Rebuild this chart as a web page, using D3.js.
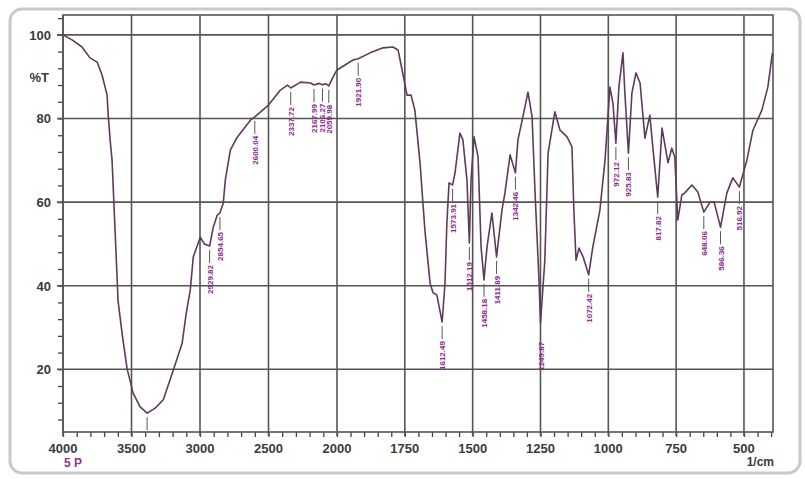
<!DOCTYPE html>
<html>
<head>
<meta charset="utf-8">
<script src="https://cdn.jsdelivr.net/npm/d3@7"></script>
<style>
  body { margin: 0; background: #fff; }
  .tickLabel { font-family: "Liberation Sans", Arial, sans-serif; font-size: 13px; font-weight: bold; fill: #3a3a3a; }
  .peakText { font-family: "Liberation Sans", Arial, sans-serif; font-size: 8px; font-weight: bold; fill: #8a2c8a; }
</style>
</head>
<body>
<div id="ir_plot"></div>
<script>

// wavenumber (1/cm) and transmittance (%T)
const wavenumbers = [
  4000, 3934, 3861, 3803, 3751, 3715, 3678, 3671, 3656, 3642, 3620, 3598, 3568, 3532, 3488, 3437, 3386, 3327, 3268, 3195,
  3130, 3100, 3071, 3049, 2998, 2969, 2929.82, 2903, 2874, 2854.65, 2830, 2815, 2778, 2727, 2632, 2600.04, 2500, 2413, 2361, 2337.72,
  2266, 2193, 2167.99, 2130, 2106.27, 2080, 2059.98, 2047, 2010, 2000, 1941, 1921.90, 1878, 1830, 1794, 1775, 1760, 1742, 1727, 1713,
  1694, 1676, 1657, 1646, 1632, 1612.49, 1602, 1595, 1587, 1573.91, 1565, 1547, 1536, 1521, 1512.19, 1506, 1495, 1480, 1469, 1458.18,
  1447, 1429, 1411.89, 1392, 1381, 1362, 1342.46, 1333, 1315, 1296, 1281, 1270, 1256, 1249.87, 1234, 1222, 1197, 1178, 1152, 1134,
  1127, 1119, 1108, 1093, 1072.42, 1057, 1031, 1012, 994, 983, 972.12, 961, 946, 939, 925.83, 913, 898, 883, 865, 847,
  836, 817.82, 802, 780, 766, 755, 744, 729, 718, 692, 670, 648.06, 625, 610, 586.36, 563, 541, 516.92, 489, 467,
  434, 412, 395
];
const transmittance = [
  100.0, 98.8, 97.1, 94.5, 93.5, 90.4, 85.6, 81.3, 74.9, 70.1, 53.3, 36.3, 28.4, 20.1, 14.3, 11.0, 9.5, 10.7, 12.7, 19.8,
  26.3, 33.5, 39.0, 46.9, 51.6, 50.0, 49.5, 54.0, 56.9, 57.4, 59.8, 65.3, 72.5, 75.6, 79.6, 80.4, 83.2, 86.8, 88.0, 87.3,
  88.7, 88.5, 88.0, 88.4, 88.1, 88.3, 87.8, 88.7, 91.1, 91.6, 94.0, 94.3, 95.7, 96.9, 97.1, 96.4, 91.6, 85.6, 85.6, 82.0,
  69.4, 53.3, 40.6, 38.3, 37.8, 31.3, 40.6, 55.0, 64.6, 64.1, 67.0, 76.5, 74.9, 65.3, 50.2, 65.3, 75.6, 70.8, 49.3, 41.4,
  49.3, 57.4, 46.9, 58.1, 62.2, 71.3, 67.0, 74.9, 80.4, 86.3, 80.4, 62.2, 42.1, 31.1, 46.1, 71.7, 81.6, 77.2, 75.6, 73.2,
  58.1, 46.1, 49.0, 46.9, 42.6, 49.3, 58.1, 70.1, 87.5, 83.7, 74.1, 87.5, 95.7, 86.1, 71.7, 86.1, 90.9, 88.5, 75.3, 80.8,
  73.2, 61.2, 77.7, 69.4, 72.9, 70.8, 55.7, 61.7, 62.2, 64.1, 62.4, 57.6, 60.0, 60.0, 54.0, 62.2, 65.8, 63.6, 70.1, 77.2,
  82.0, 87.5, 95.7
];

// peak picking labels
const peakWavenumbers = [3386, 2929.82, 2854.65, 2600.04, 2337.72, 2167.99, 2106.27, 2059.98, 1921.90, 1612.49, 1573.91,
  1512.19, 1458.18, 1411.89, 1342.46, 1249.87, 1072.42, 972.12, 925.83, 817.82, 648.06, 586.36, 516.92];
const peakTexts = ["", "2929.82", "2854.65", "2600.04", "2337.72", "2167.99", "2106.27", "2059.98", "1921.90", "1612.49", "1573.91",
  "1512.19", "1458.18", "1411.89", "1342.46", "1249.87", "1072.42", "972.12", "925.83", "817.82", "648.06", "586.36", "516.92"];

const xTicks = [4000, 3500, 3000, 2500, 2000, 1750, 1500, 1250, 1000, 750, 500];
const yTicks = [20, 40, 60, 80, 100];

const width = 805, height = 479;
const plotLeft = 63, plotRight = 773, plotTop = 15, plotBottom = 432;

let svg = d3.select("#ir_plot")
  .append("svg")
  .attr("width", width)
  .attr("height", height);

// outer rounded frame
svg.append("rect")
  .attr("x", 10).attr("y", 9)
  .attr("width", 790).attr("height", 464)
  .attr("rx", 12)
  .attr("fill", "none")
  .attr("stroke", "#c9c9c9")
  .attr("stroke-width", 3);

// x axis changes scale at 2000 1/cm like the instrument printout
let x = d3.scaleLinear()
  .domain([4000, 2000, 393])
  .range([plotLeft, 337, plotRight]);

let y = d3.scaleLinear()
  .domain([5, 104.76])
  .range([plotBottom, plotTop]);

// minor ticks
let xMinor = d3.range(4000, 2000, -100).concat(d3.range(2000, 399, -50));
let yMinor = d3.range(8, 105, 4);

svg.append("g")
  .attr("transform", "translate(0," + plotBottom + ")")
  .call(d3.axisBottom(x).tickValues(xMinor).tickSize(5).tickFormat(""))
  .call(g => g.select(".domain").remove())
  .selectAll("line").attr("stroke", "#444").attr("stroke-width", 1.3);

svg.append("g")
  .attr("transform", "translate(" + plotLeft + ",0)")
  .call(d3.axisLeft(y).tickValues(yMinor).tickSize(5).tickFormat(""))
  .call(g => g.select(".domain").remove())
  .selectAll("line").attr("stroke", "#444").attr("stroke-width", 1.3);

// grid
svg.append("g")
  .selectAll("line")
  .data(xTicks)
  .enter()
  .append("line")
  .attr("x1", d => x(d)).attr("x2", d => x(d))
  .attr("y1", plotTop).attr("y2", plotBottom + 4)
  .attr("stroke", "#555").attr("stroke-width", 1.6);

svg.append("g")
  .selectAll("line")
  .data(yTicks)
  .enter()
  .append("line")
  .attr("x1", plotLeft - 6).attr("x2", plotRight)
  .attr("y1", d => y(d)).attr("y2", d => y(d))
  .attr("stroke", "#555").attr("stroke-width", 1.6);

// plot border
svg.append("rect")
  .attr("x", plotLeft).attr("y", plotTop)
  .attr("width", plotRight - plotLeft).attr("height", plotBottom - plotTop)
  .attr("fill", "none")
  .attr("stroke", "#555").attr("stroke-width", 1.6);

// tick labels
svg.append("g")
  .selectAll("text")
  .data(xTicks)
  .enter()
  .append("text")
  .attr("class", "tickLabel")
  .attr("x", d => x(d))
  .attr("y", 453)
  .attr("text-anchor", "middle")
  .text(d => d);

svg.append("g")
  .selectAll("text")
  .data(yTicks)
  .enter()
  .append("text")
  .attr("class", "tickLabel")
  .attr("x", 51)
  .attr("y", d => y(d) + 5)
  .attr("text-anchor", "end")
  .text(d => d);

svg.append("text").attr("class", "tickLabel")
  .attr("x", 49).attr("y", y(90) + 5)
  .attr("text-anchor", "end")
  .text("%T");

svg.append("text").attr("class", "tickLabel")
  .attr("x", 774).attr("y", 466)
  .attr("text-anchor", "end")
  .style("font-size", "12px")
  .text("1/cm");

svg.append("text").attr("class", "tickLabel")
  .attr("x", 64).attr("y", 467)
  .style("fill", "#8a3a8a")
  .style("font-size", "12px")
  .text("5 P");

// spectrum
let points = wavenumbers.map((w, i) => [w, transmittance[i]]);

svg.append("path")
  .datum(points)
  .attr("fill", "none")
  .attr("stroke", "#5e3b5c")
  .attr("stroke-width", 1.6)
  .attr("stroke-linejoin", "round")
  .attr("d", d3.line().x(d => x(d[0])).y(d => y(d[1])));

// peak labels hang below the curve
let tAt = d3.scaleLinear().domain(wavenumbers).range(transmittance);

let peaks = svg.append("g")
  .selectAll("g")
  .data(peakWavenumbers)
  .enter()
  .append("g");

peaks.append("line")
  .attr("x1", d => x(d)).attr("x2", d => x(d))
  .attr("y1", d => y(tAt(d)) + 4)
  .attr("y2", d => Math.min(y(tAt(d)) + 17, plotBottom))
  .attr("stroke", "#555").attr("stroke-width", 1);

peaks.append("text")
  .attr("class", "peakText")
  .attr("text-anchor", "end")
  .attr("transform", d => "translate(" + (x(d) + 3) + "," + (y(tAt(d)) + 19) + ") rotate(-90)")
  .text((d, i) => peakTexts[i]);

</script>
</body>
</html>
